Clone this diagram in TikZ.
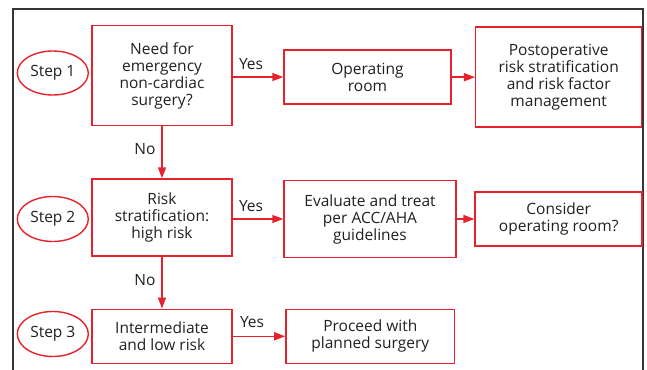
\documentclass[tikz,border=0pt]{standalone}
\usepackage{fontspec}
\setmainfont{Open Sans}
\usetikzlibrary{arrows.meta,shapes.geometric}
\definecolor{rd}{RGB}{230,35,45}
\definecolor{tx}{RGB}{35,31,32}
\tikzset{
  txtfont/.style={font=\fontsize{15.5}{17}\selectfont},
  box/.style={draw=rd,line width=1.5pt,rectangle,inner sep=0pt,align=center,text=tx,txtfont},
  stepell/.style={draw=rd,line width=1.4pt,ellipse,inner sep=0pt,minimum width=71pt,minimum height=44pt,text=tx,txtfont},
  arr/.style={draw=rd,line width=1.5pt,-{Triangle[length=11pt,width=8pt]}},
  lbl/.style={text=tx,txtfont,inner sep=0pt}
}
\begin{document}
\begin{tikzpicture}[x=1pt,y=-1pt]
\useasboundingbox (0,0) rectangle (647,369);
\draw[line width=1.4pt,color=tx!90] (13,380) -- (13,9) -- (643,9) -- (643,380);
\node[stepell] (s1) at (52.8,73) {Step 1};
\node[stepell,minimum height=45pt] (s2) at (52.8,219) {Step 2};
\node[stepell,minimum height=45pt] (s3) at (52.8,334) {Step 3};
\node[box,minimum width=140pt,minimum height=100pt] (q1) at (162,75.7) {Need for\\emergency\\non-cardiac\\surgery?};
\node[box,minimum width=167pt,minimum height=54pt] (or) at (367.5,77) {Operating\\room};
\node[box,minimum width=166pt,minimum height=100pt] (post) at (558.7,77.2) {Postoperative\\risk stratification\\and risk factor\\management};
\node[box,minimum width=140pt,minimum height=77pt] (q2) at (162,217.5) {Risk\\stratification:\\high risk};
\node[box,minimum width=172pt,minimum height=76.6pt] (eval) at (370,219) {Evaluate and treat\\per ACC/AHA\\guidelines};
\node[box,minimum width=167pt,minimum height=54pt] (cons) at (558.7,219) {Consider\\operating room?};
\node[box,minimum width=140pt,minimum height=54pt] (q3) at (162,336.3) {Intermediate\\and low risk};
\node[box,minimum width=168.7pt,minimum height=54pt] (proc) at (370.3,336.3) {Proceed with\\planned surgery};
\draw[arr] (q1.east |- or.west) -- (or.west);
\draw[arr] (or.east |- post.west) -- (post.west);
\draw[arr] (q2.east |- eval.west) -- (eval.west);
\draw[arr] (eval.east |- cons.west) -- (cons.west);
\draw[arr] (q3.east |- proc.west) -- (proc.west);
\draw[arr] (q1.south) -- (q2.north);
\draw[arr] (q2.south) -- (q3.north);
\node[lbl] (y1) at (251,64.5) {Yes};
\node[lbl] (y2) at (251,206) {Yes};
\node[lbl] (y3) at (252,322.5) {Yes};
\node[lbl] (n1) at (145,149) {No};
\node[lbl] (n2) at (145,280) {No};
\end{tikzpicture}
\end{document}
